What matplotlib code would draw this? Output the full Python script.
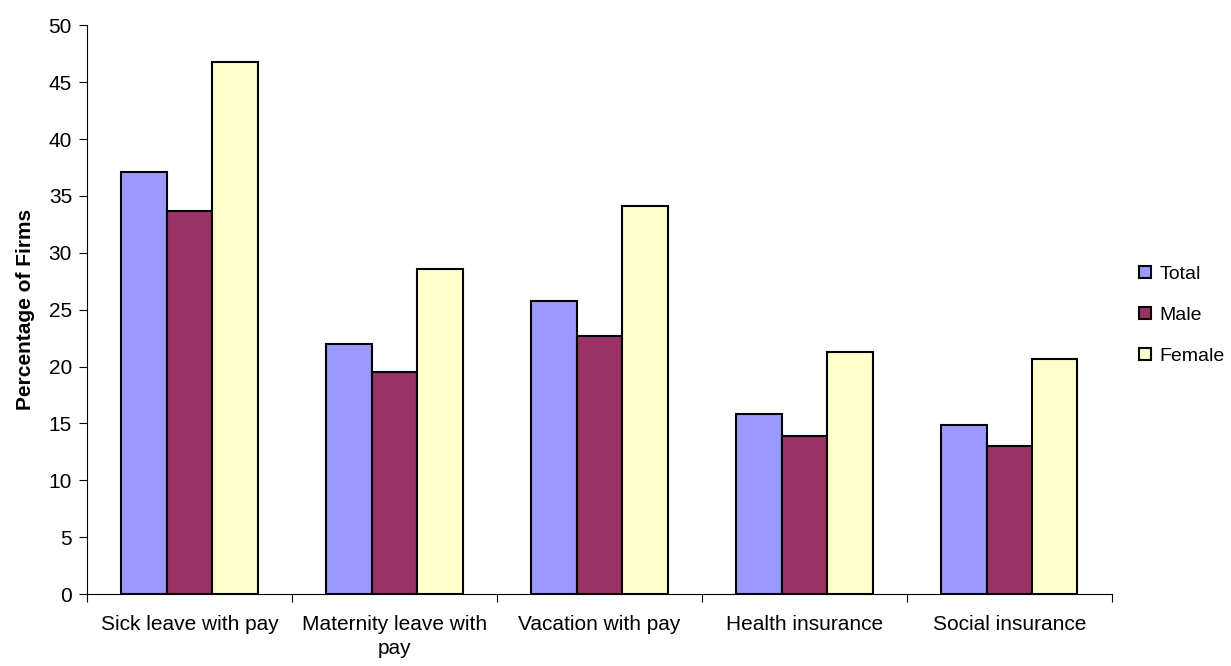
import matplotlib.pyplot as plt
import numpy as np

plt.rcParams['font.family'] = ['Liberation Sans', 'DejaVu Sans']

categories = ["Sick leave with pay", "Maternity leave with\npay", "Vacation with pay",
              "Health insurance", "Social insurance"]
total = [37.1, 22.0, 25.8, 15.8, 14.9]
male = [33.7, 19.5, 22.7, 13.9, 13.0]
female = [46.8, 28.6, 34.1, 21.3, 20.7]

series = [("Total", total, "#9999ff"), ("Male", male, "#993366"), ("Female", female, "#ffffcc")]

fig = plt.figure(figsize=(12.31, 6.66), dpi=100)
ax = fig.add_axes([0.0709, 0.108, 0.8322, 0.854])

x = np.arange(len(categories))
w = 0.222
for k, (name, vals, col) in enumerate(series):
    ax.bar(x + (k - 1) * w, vals, w, color=col, edgecolor='black', linewidth=1.5, label=name)

ax.set_xlim(-0.5, len(categories) - 0.5)
ax.set_ylim(0, 50)
ax.set_yticks(np.arange(0, 51, 5))
ax.tick_params(axis='y', labelsize=15, length=6, direction='out', pad=5)

# category labels sit between the boundary ticks
ax.set_xticks(np.arange(-0.5, len(categories), 1.0))
ax.set_xticklabels([])
ax.set_xticks(x, minor=True)
ax.set_xticklabels(categories, minor=True, fontsize=15, linespacing=1.35)
ax.tick_params(axis='x', which='major', length=6, direction='out')
ax.tick_params(axis='x', which='minor', length=0, pad=15)

for s in ['top', 'right']:
    ax.spines[s].set_visible(False)
ax.spines['left'].set_color('black')
ax.spines['bottom'].set_color('black')

ax.set_ylabel("Percentage of Firms", fontsize=15, fontweight='bold', labelpad=10)

ax.legend(loc='center left', bbox_to_anchor=(1.01, 0.49), frameon=False, fontsize=14,
          handlelength=0.58, handleheight=0.58, handletextpad=0.45, labelspacing=1.25)

fig.savefig("out.png", dpi=100)
